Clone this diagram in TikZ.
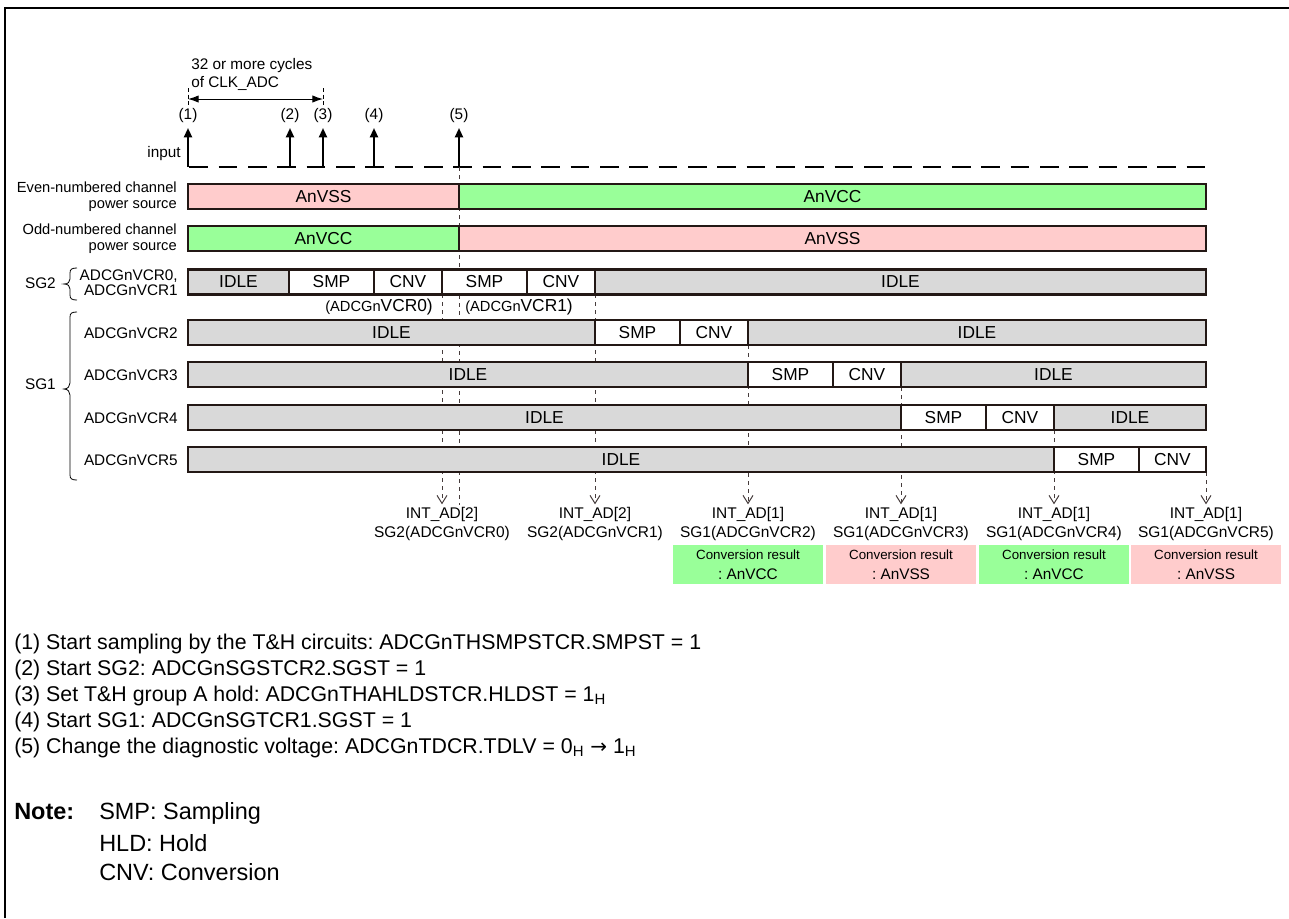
\documentclass[tikz,border=0pt]{standalone}
\usepackage{fontspec}
\setmainfont{Liberation Sans}
\newfontfamily\djv{DejaVu Sans}
\usetikzlibrary{arrows.meta}
\definecolor{vgreen}{RGB}{153,255,153}
\definecolor{vpink}{RGB}{255,204,204}
\definecolor{vgray}{RGB}{217,217,217}
\definecolor{bline}{RGB}{35,24,21}
\definecolor{dline}{RGB}{70,60,60}
\tikzset{
  segline/.style={draw=bline, line width=1.9pt},
  barlbl/.style={inner sep=0pt, font=\fontsize{13}{15}\selectfont},
  lbl/.style={inner sep=0pt, font=\fontsize{11.5}{13.5}\selectfont},
  vdot/.style={draw=dline, line width=0.75pt, dash pattern=on 3pt off 3pt},
  intarrow/.style={vdot, -{Straight Barb[length=6pt,width=7.5pt]}},
  inarrow/.style={line width=1.5pt, -{Triangle[length=7pt,width=6pt]}},
  dimarrow/.style={line width=0.75pt, {Latex[length=8pt,width=5.5pt]}-{Latex[length=8pt,width=5.5pt]}},
  tickline/.style={line width=0.75pt, dash pattern=on 3pt off 2pt},
  intlbl/.style={lbl, align=center, anchor=north, font=\fontsize{11.6}{14.2}\selectfont},
  resbox/.style={anchor=north, inner sep=0pt, minimum width=112pt, minimum height=29pt, align=center, font=\fontsize{10}{14.5}\selectfont},
  legend/.style={anchor=west, inner sep=0pt, font=\fontsize{16}{18}\selectfont},
  notetext/.style={anchor=west, inner sep=0pt, font=\fontsize{17.6}{20}\selectfont},
}
\newcommand\tseg[6]{\draw[segline, fill=#5] (#2,{#4-12.5}) rectangle (#3,{#4+12.5});
  \node[barlbl] (#1) at ({(#2+#3)/2},#4) {#6};}
\begin{document}
\frenchspacing
\begin{tikzpicture}[x=0.75pt,y=-0.75pt]
\useasboundingbox (0,0) rectangle (1289,918);
% frame
\coordinate (fbl) at (4.5,918);
\coordinate (ftl) at (4.5,7.5);
\coordinate (ftr) at (1289,7.5);
\draw[line width=1.5pt] (fbl) -- (ftl) -- (ftr);

% dimension
\node[lbl, align=left, anchor=west] (dimtxt) at (191,74) {32 or more cycles\\of CLK\_ADC};
\coordinate (tk1a) at (188,88); \coordinate (tk1b) at (188,105);
\coordinate (tk2a) at (323,88); \coordinate (tk2b) at (323,105);
\draw[tickline] (tk1a) -- (tk1b);
\draw[tickline] (tk2a) -- (tk2b);
\coordinate (dimL) at (188,99); \coordinate (dimR) at (323,99);
\draw[dimarrow] (dimL) -- (dimR);

% input line
\node[lbl, anchor=east] (inlbl) at (181,154) {input};
\coordinate (inS) at (188,167); \coordinate (inE) at (1206,167);
\draw[line width=1.5pt, dash pattern=on 14pt off 8pt, dash phase=-1pt] (inS) -- (inE);
\foreach \n/\x in {1/188,2/290,3/323,4/374,5/459}{
  \coordinate (b\n) at (\x,167);
  \coordinate (t\n) at (\x,128);
  \draw[inarrow] (b\n) -- (t\n);
  \node[lbl] (p\n) at (\x,116) {(\n)};
}

% dotted vertical lines (behind bars)
\coordinate (d5a) at (459,167); \coordinate (d5b) at (459,505);
\draw[vdot] (d5a) -- (d5b);
\node[intlbl] (int1) at (442,507) {INT\_AD[2]\\SG2(ADCGnVCR0)};
\node[intlbl] (int2) at (595,507) {INT\_AD[2]\\SG2(ADCGnVCR1)};
\node[intlbl] (int3) at (748,507) {INT\_AD[1]\\SG1(ADCGnVCR2)};
\node[intlbl] (int4) at (901,507) {INT\_AD[1]\\SG1(ADCGnVCR3)};
\node[intlbl] (int5) at (1054,507) {INT\_AD[1]\\SG1(ADCGnVCR4)};
\node[intlbl] (int6) at (1206,507) {INT\_AD[1]\\SG1(ADCGnVCR5)};
\coordinate (s1) at (442,294);
\coordinate (s2) at (595,294);
\coordinate (s3) at (748,345);
\coordinate (s4) at (901,387);
\coordinate (s5) at (1054,430);
\coordinate (s6) at (1206,472);
\foreach \i in {1,...,6}{\draw[intarrow, shorten >=2pt] (s\i) -- (int\i.north);}

% power rows
\node[lbl, align=right, anchor=east, font=\fontsize{11}{12.2}\selectfont] (evl) at (177,197) {Even-numbered channel\\power source};
\node[lbl, align=right, anchor=east, font=\fontsize{11}{12.2}\selectfont] (odl) at (177,239) {Odd-numbered channel\\power source};
\tseg{ev1}{188}{459}{196.5}{vpink}{AnVSS}
\tseg{ev2}{459}{1206}{196.5}{vgreen}{AnVCC}
\tseg{od1}{188}{459}{238.5}{vgreen}{AnVCC}
\tseg{od2}{459}{1206}{238.5}{vpink}{AnVSS}

% SG2 row
\node[lbl, align=right, anchor=east, font=\fontsize{11.5}{11.5}\selectfont] (sg2l) at (178,283) {ADCGnVCR0,\\ADCGnVCR1};
\tseg{a1}{188}{289}{282}{vgray}{IDLE}
\tseg{a2}{289}{374}{282}{white}{SMP}
\tseg{a3}{374}{442}{282}{white}{CNV}
\tseg{a4}{442}{527}{282}{white}{SMP}
\tseg{a5}{527}{595}{282}{white}{CNV}
\tseg{a6}{595}{1206}{282}{vgray}{IDLE}
\node[lbl, anchor=east] (vc0) at (433,307) {{\fontsize{11}{13}\selectfont(ADCGn}{\fontsize{13}{15}\selectfont VCR0)}};
\node[lbl, anchor=west] (vc1) at (465,307) {{\fontsize{11}{13}\selectfont(ADCGn}{\fontsize{13}{15}\selectfont VCR1)}};

% SG1 rows
\node[lbl, anchor=east] (r2l) at (178,333) {ADCGnVCR2};
\tseg{c1}{188}{595}{332.5}{vgray}{IDLE}
\tseg{c2}{595}{680}{332.5}{white}{SMP}
\tseg{c3}{680}{748}{332.5}{white}{CNV}
\tseg{c4}{748}{1206}{332.5}{vgray}{IDLE}
\node[lbl, anchor=east] (r3l) at (178,375) {ADCGnVCR3};
\tseg{e1}{188}{748}{374.5}{vgray}{IDLE}
\tseg{e2}{748}{833}{374.5}{white}{SMP}
\tseg{e3}{833}{901}{374.5}{white}{CNV}
\tseg{e4}{901}{1206}{374.5}{vgray}{IDLE}
\node[lbl, anchor=east] (r4l) at (178,418) {ADCGnVCR4};
\tseg{f1}{188}{901}{417.5}{vgray}{IDLE}
\tseg{f2}{901}{986}{417.5}{white}{SMP}
\tseg{f3}{986}{1054}{417.5}{white}{CNV}
\tseg{f4}{1054}{1206}{417.5}{vgray}{IDLE}
\node[lbl, anchor=east] (r5l) at (178,460) {ADCGnVCR5};
\tseg{g1}{188}{1054}{459.5}{vgray}{IDLE}
\tseg{g2}{1054}{1139}{459.5}{white}{SMP}
\tseg{g3}{1139}{1206}{459.5}{white}{CNV}

% braces
\draw[line width=0.6pt] (77,268) .. controls (72,268) and (70,269) .. (70,273) -- (70,279)
  .. controls (70,282) and (68,284) .. (64,284) .. controls (68,284) and (70,286) .. (70,289)
  -- (70,295) .. controls (70,299) and (72,300) .. (77,300);
\node[lbl, anchor=east] (sg2) at (56,283) {SG2};
\draw[line width=0.6pt] (77,312) .. controls (72,312) and (70,313) .. (70,317) -- (70,383)
  .. controls (70,386) and (68,389) .. (64,389) .. controls (68,389) and (70,392) .. (70,395)
  -- (70,475) .. controls (70,479) and (72,480) .. (77,480);
\node[lbl, anchor=east] (sg1) at (56,384) {SG1};

% conversion result boxes
\node[resbox, fill=vgreen] (cr1) at (748,545) {Conversion result\\{\fontsize{11.5}{14.5}\selectfont : AnVCC}};
\node[resbox, fill=vpink] (cr2) at (901,545) {Conversion result\\{\fontsize{11.5}{14.5}\selectfont : AnVSS}};
\node[resbox, fill=vgreen] (cr3) at (1054,545) {Conversion result\\{\fontsize{11.5}{14.5}\selectfont : AnVCC}};
\node[resbox, fill=vpink] (cr4) at (1206,545) {Conversion result\\{\fontsize{11.5}{14.5}\selectfont : AnVSS}};

% legend
\node[legend] (lg1) at (14,644) {(1) Start sampling by the T\&H circuits: ADCGnTHSMPSTCR.SMPST = 1};
\node[legend] (lg2) at (14,670) {(2) Start SG2: ADCGnSGSTCR2.SGST = 1};
\node[legend] (lg3) at (14,696) {(3) Set T\&H group A hold: ADCGnTHAHLDSTCR.HLDST = 1\textsubscript{H}};
\node[legend] (lg4) at (14,722) {(4) Start SG1: ADCGnSGTCR1.SGST = 1};
\node[legend] (lg5) at (14,748) {(5) Change the diagnostic voltage: ADCGnTDCR.TDLV = 0\textsubscript{H} {\djv\fontsize{15}{18}\selectfont →} 1\textsubscript{H}};
\node[notetext, font=\bfseries\fontsize{17.6}{20}\selectfont] (note) at (14,812) {Note:};
\node[notetext] (n1) at (99,813) {SMP: Sampling};
\node[notetext] (n2) at (99,843) {HLD: Hold};
\node[notetext] (n3) at (99,872) {CNV: Conversion};
\end{tikzpicture}
\end{document}
